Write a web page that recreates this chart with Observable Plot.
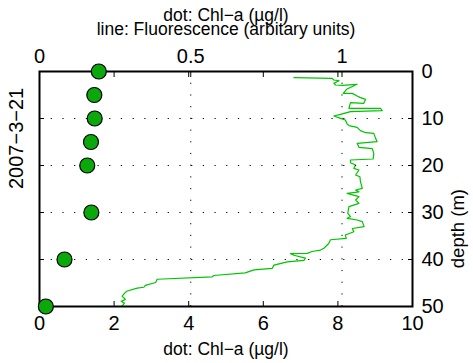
<!DOCTYPE html>
<html><head><meta charset="utf-8">
<script src="https://cdn.jsdelivr.net/npm/d3@7"></script>
<script src="https://cdn.jsdelivr.net/npm/@observablehq/plot@0.6"></script>
<style>
html,body{margin:0;padding:0;background:#fff;}
#chart{position:relative;width:473px;height:363px;overflow:hidden;}
#chart svg{position:absolute;left:0;top:0;}
</style></head><body><div id="chart"></div>
<script>
// Chl-a sample dots (bottom axis, µg/l)
const chlDepth = [0, 5, 10, 15, 20, 30, 40, 50];
const chlValue = [1.59, 1.47, 1.48, 1.38, 1.28, 1.39, 0.67, 0.17];

// Fluorescence profile (top axis, arbitrary units)
const fluorDepth = [1.31,1.45,1.81,1.95,2.52,2.87,2.94,2.73,3.79,4.65,4.65,5.21,5.50,5.92,6.77,6.63,7.84,7.84,8.33,8.55,9.11,9.47,9.96,10.32,11.17,11.52,11.88,12.59,13.02,13.16,14.22,14.93,15.28,16.13,16.42,17.41,18.62,18.83,19.40,19.89,20.60,20.96,22.02,22.38,23.44,24.86,25.21,25.60,25.92,26.63,27.34,28.05,28.76,30.18,30.89,31.24,31.60,31.95,33.00,33.40,34.10,34.80,35.50,35.80,36.60,37.60,38.00,38.30,38.70,38.75,39.10,39.70,40.20,40.50,41.20,41.90,42.20,42.85,43.40,43.70,44.20,44.90,45.50,45.90,46.10,46.70,47.00,47.80,48.50,48.90,49.30,49.90];
const fluorValue = [0.841,0.967,0.973,0.990,0.973,0.979,1.000,1.050,1.015,1.004,1.034,1.050,1.059,1.078,1.072,1.028,1.023,1.127,1.133,1.028,0.995,0.973,0.995,1.011,1.017,1.023,1.050,1.061,1.078,1.105,1.111,1.116,1.050,1.056,1.100,1.105,1.103,1.028,1.028,1.045,1.039,1.056,1.045,1.059,1.061,1.067,1.045,1.056,1.017,1.056,1.045,1.056,1.023,1.019,1.028,1.017,1.050,1.067,1.073,1.034,1.039,1.011,1.014,0.962,0.956,0.940,0.929,0.901,0.885,0.830,0.841,0.879,0.874,0.819,0.775,0.769,0.709,0.680,0.576,0.571,0.389,0.384,0.350,0.345,0.323,0.290,0.284,0.273,0.284,0.270,0.281,0.273];

const chlTicks = [0, 2, 4, 6, 8, 10];
const fluorTicks = [0, 0.5, 1];
const fluorMax = 1.233;
const depthTicks = [0, 10, 20, 30, 40, 50];
const gridDepths = [10, 20, 30, 40];
const gridFluor = [0.5, 1];
const titleLines = ["dot: Chl−a (µg/l)", "line: Fluorescence (arbitary units)"];
const xLabel = "dot: Chl−a (µg/l)";
const yLabel = "depth (m)";
const sideLabel = "2007−3−21";

const chl = chlDepth.map((d, i) => ({depth: d, value: chlValue[i]}));
const fluor = fluorDepth.map((d, i) => ({depth: d, value: fluorValue[i]}));

const common = {
  width: 473, height: 363,
  marginTop: 71, marginRight: 61, marginBottom: 57, marginLeft: 39,
  style: {fontFamily: "'Liberation Sans', Arial, sans-serif", background: "transparent", color: "black", overflow: "visible"}
};
const dotted = {stroke: "black", strokeOpacity: 1, strokeWidth: 1, strokeDasharray: "1.2,10.5"};

const back = Plot.plot({
  ...common,
  x: {domain: [0, fluorMax], label: null},
  y: {domain: [0, 50], reverse: true, axis: null},
  marks: [
    Plot.gridX(gridFluor, dotted),
    Plot.line(fluor, {x: "value", y: "depth", stroke: "#00c400", strokeWidth: 1.2}),
    Plot.axisX(fluorTicks, {anchor: "top", tickSize: -5, tickFormat: d => String(d), fontSize: 20, stroke: "black"})
  ]
});

const front = Plot.plot({
  ...common,
  x: {domain: [0, 10], label: null},
  y: {domain: [0, 50], reverse: true, label: null},
  marks: [
    Plot.gridY(gridDepths, dotted),
    Plot.frame({stroke: "black", strokeWidth: 2}),
    Plot.axisX(chlTicks, {anchor: "bottom", tickSize: -5, fontSize: 20, stroke: "black"}),
    Plot.axisX(chlTicks.slice(1, -1), {anchor: "top", tickSize: -5, tickFormat: () => "", stroke: "black"}),
    Plot.axisY(depthTicks, {anchor: "right", tickSize: -5, fontSize: 20, stroke: "black"}),
    Plot.axisY(depthTicks.slice(1, -1), {anchor: "left", tickSize: -5, tickFormat: () => "", stroke: "black"}),
    Plot.dot(chl, {x: "value", y: "depth", r: 7.5, fill: "#0aa80a", stroke: "black", strokeWidth: 1.2}),
    Plot.text([xLabel], {text: d => d, frameAnchor: "bottom", dy: 48, fontSize: 17.5}),
    Plot.text([yLabel], {text: d => d, frameAnchor: "right", rotate: -90, dx: 46, fontSize: 18.5}),
    Plot.text([sideLabel], {text: d => d, frameAnchor: "left", rotate: -90, dx: -22.5, fontSize: 20}),
    Plot.text([titleLines[0]], {text: d => d, frameAnchor: "top", dy: -62.6, fontSize: 17.5}),
    Plot.text([titleLines[1]], {text: d => d, frameAnchor: "top", dy: -48.6, fontSize: 17.5})
  ]
});

const chart = document.getElementById("chart");
chart.appendChild(back);
chart.appendChild(front);
</script>
</body></html>
